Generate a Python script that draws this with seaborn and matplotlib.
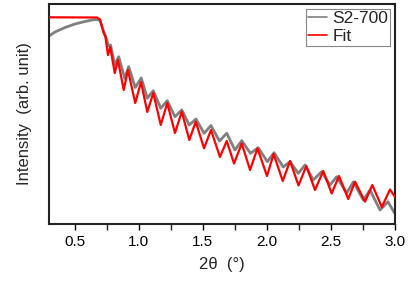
import numpy as np
import pandas as pd
import matplotlib
matplotlib.use("Agg")
import matplotlib.pyplot as plt
import seaborn as sns
from matplotlib.ticker import MultipleLocator

# Measured curve (S2-700): 2theta (deg) and log-intensity (arb. unit)
meas_x = [0.300, 0.347, 0.425, 0.503, 0.581, 0.636, 0.675, 0.698, 0.727, 0.741,
          0.764, 0.780, 0.813, 0.844, 0.891, 0.922, 0.973, 1.020, 1.067, 1.114,
          1.172, 1.223, 1.283, 1.336, 1.395, 1.447, 1.510, 1.564, 1.630, 1.687,
          1.751, 1.804, 1.872, 1.933, 2.004, 2.056, 2.128, 2.181, 2.245, 2.298,
          2.362, 2.428, 2.493, 2.545, 2.623, 2.675, 2.753, 2.805, 2.883, 2.945,
          2.996]
meas_y = [188.0, 192.0, 196.5, 200.0, 202.5, 204.0, 204.5, 203.5, 192.3, 188.0,
          178.0, 179.0, 159.0, 167.3, 145.7, 157.3, 136.5, 146.0, 125.7, 133.3,
          115.7, 123.3, 107.3, 114.0, 99.0, 105.0, 90.7, 98.5, 83.0, 90.7,
          74.0, 83.3, 70.7, 76.3, 62.3, 71.3, 57.0, 62.3, 50.7, 59.0,
          44.0, 52.3, 39.0, 47.3, 31.0, 42.0, 24.0, 34.0, 14.0, 22.3,
          11.0]

# Fitted curve
fit_x = [0.300, 0.675, 0.698, 0.727, 0.741, 0.760, 0.778, 0.813, 0.838, 0.883,
         0.916, 0.973, 1.018, 1.067, 1.114, 1.172, 1.223, 1.283, 1.336, 1.395,
         1.445, 1.510, 1.564, 1.634, 1.687, 1.744, 1.804, 1.869, 1.927, 2.001,
         2.053, 2.124, 2.181, 2.247, 2.308, 2.376, 2.440, 2.506, 2.563, 2.635,
         2.688, 2.766, 2.823, 2.897, 2.961, 3.000]
fit_y = [206.7, 206.5, 204.5, 191.0, 187.0, 169.0, 177.0, 151.0, 164.0, 134.0,
         154.0, 121.0, 142.0, 112.0, 131.0, 99.0, 121.0, 91.0, 112.3, 84.0,
         102.3, 75.7, 94.0, 67.0, 83.0, 60.5, 80.5, 54.0, 75.7, 48.0,
         70.0, 43.0, 63.0, 38.5, 58.0, 34.0, 53.0, 30.5, 48.0, 25.0,
         42.3, 22.3, 39.0, 17.0, 34.5, 27.0]

series_names = ["S2-700", "Fit"]
xticks = [0.5, 1.0, 1.5, 2.0, 2.5, 3.0]

df = pd.concat([
    pd.DataFrame({"x": meas_x, "y": meas_y, "series": series_names[0]}),
    pd.DataFrame({"x": fit_x, "y": fit_y, "series": series_names[1]}),
], ignore_index=True)

sns.set_theme(style="ticks")
plt.rcParams["font.family"] = ["Liberation Sans", "DejaVu Sans"]

fig = plt.figure(figsize=(4.09, 2.86), dpi=100)
ax = fig.add_axes([49/409, 1-224/286, 346/409, 220/286])

sns.lineplot(data=df, x="x", y="y", hue="series", sort=False, estimator=None,
             palette={"S2-700": "#808080", "Fit": "#ff0000"}, ax=ax,
             legend=True)
for line, lw, z in zip(ax.get_lines()[:2], [2.0, 1.6], [2, 3]):
    line.set_linewidth(lw)
    line.set_zorder(z)
    line.set_solid_joinstyle("round")
    line.set_solid_capstyle("round")

ax.set_xlim(0.3, 3.0)
ax.set_ylim(0, 220)
ax.set_xticks(xticks)
ax.set_xticklabels([f"{t:.1f}" for t in xticks])
ax.xaxis.set_minor_locator(MultipleLocator(0.25))
ax.set_yticks([])
ax.tick_params(axis="x", which="major", direction="out", length=4, width=1,
               labelsize=11, pad=4, colors="black")
ax.tick_params(axis="x", which="minor", direction="out", length=4, width=1)
for sp in ax.spines.values():
    sp.set_visible(True)
    sp.set_linewidth(1.5)
    sp.set_color("#222222")

ax.set_xlabel("2θ  (°)", fontsize=12, labelpad=6)
ax.set_ylabel("Intensity  (arb. unit)", fontsize=12, labelpad=12)

handles, labels = ax.get_legend_handles_labels()
leg = ax.legend(handles, labels, loc="upper right", fontsize=12.5, frameon=True,
                fancybox=False, edgecolor="#888888", framealpha=1,
                handlelength=1.1, handletextpad=0.3, borderpad=0.1,
                labelspacing=0.15, borderaxespad=0.3)
leg.get_frame().set_linewidth(0.8)
for h in leg.get_lines():
    h.set_linewidth(1.2)

fig.savefig("out.png", dpi=100)
